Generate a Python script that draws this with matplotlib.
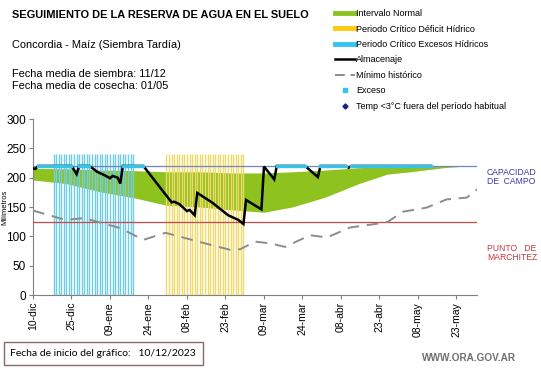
import numpy as np
import pandas as pd
import matplotlib
matplotlib.use("Agg")
import matplotlib.pyplot as plt
from matplotlib.lines import Line2D
from matplotlib.patches import Rectangle

plt.rcParams['font.family'] = ['Liberation Sans', 'DejaVu Sans']

START = pd.Timestamp("2023-12-10")
END = pd.Timestamp("2024-05-31")

# ---- data (day offsets from 10/12/2023) ----
band_days = [0, 13, 26, 39, 52, 65, 78, 90, 101, 114, 127, 138, 147, 160, 169, 173]
band_upper = [216, 215, 213, 212, 210, 210, 208, 208, 210, 213, 217, 219, 220, 220, 220, 220]
band_lower = [196, 190, 176, 166, 153, 150, 145, 141, 150, 167, 190, 206, 210, 217, 220, 220]

alm_days = [0, 1, 2, 15, 17, 18, 22, 25, 28, 30, 31, 33, 34, 35, 43, 54, 55, 57, 60, 61, 63, 64,
            70, 76, 80, 82, 83, 89, 90, 94, 95, 106, 111, 112, 122, 123, 124, 155]
alm_vals = [216, 215, 220, 220, 206, 220, 220, 210, 204, 199, 203, 200, 190, 220, 220, 158, 159, 155,
            143, 145, 136, 174, 157, 136, 128, 121, 162, 146, 219, 197, 220, 220, 201, 220, 220, 217, 220, 220]

min_days = [0, 12.6, 19.6, 22.4, 34, 43, 51.6, 59.3, 67, 76.8, 80.7, 86.6, 92.4, 98.2, 108, 114.5,
            123.5, 136.4, 138.3, 144.2, 153.4, 161.2, 169, 173]
min_vals = [144, 128, 131, 128, 114, 94, 106, 97, 88, 77, 78, 91, 88, 82, 102, 98,
            115, 123, 125, 142, 149, 163, 166, 180]

exceso_periods = [("2023-12-12", "2023-12-25"), ("2023-12-28", "2024-01-01"),
                  ("2024-01-14", "2024-01-22"), ("2024-03-14", "2024-03-25"),
                  ("2024-03-31", "2024-04-10"), ("2024-04-12", "2024-05-13")]
deficit_period = ("2024-01-31", "2024-03-01")
excesos_period = ("2023-12-18", "2024-01-18")
crit_height = 240

capacidad_campo = 220
punto_marchitez = 124

tick_labels = ["10-dic", "25-dic", "09-ene", "24-ene", "08-feb", "23-feb", "09-mar",
               "24-mar", "08-abr", "23-abr", "08-may", "23-may"]

def to_dates(days):
    return START + pd.to_timedelta(np.asarray(days, dtype=float), unit="D")

# ---- figure ----
W, H = 541, 368
fig = plt.figure(figsize=(W / 100, H / 100), dpi=100)
ax = fig.add_axes([33 / W, 1 - 295 / H, 444 / W, 176 / H])

# green band
ax.fill_between(to_dates(band_days), band_lower, band_upper, color='#8dc21f', lw=0, zorder=1)

# critical period bars (daily lines)
exc_d = pd.date_range(*excesos_period, freq="D")
ax.vlines(exc_d, 0, crit_height, colors='#6fcde6', linewidth=1.0, zorder=2)
def_d = pd.date_range(*deficit_period, freq="D")
ax.vlines(def_d, 0, crit_height, colors='#f2da68', linewidth=1.0, zorder=2)

# reference lines
ax.axhline(capacidad_campo, color='#6f86c2', lw=0.9, zorder=3)
ax.axhline(punto_marchitez, color='#c24a4a', lw=0.9, zorder=3)

# minimo historico
ax.plot(to_dates(min_days), min_vals, color='#8c8c8c', lw=1.4, dashes=(6, 4), zorder=4)

# almacenaje
ax.plot(to_dates(alm_days), alm_vals, color='black', lw=1.8, zorder=5, solid_joinstyle='miter')

# exceso markers
ex_dates = pd.DatetimeIndex(np.concatenate([pd.date_range(a, b, freq="D") for a, b in exceso_periods]))
ax.plot(ex_dates, [capacidad_campo] * len(ex_dates), ls='none', marker='s', ms=2.0,
        color='#35c4ee', mec='#35c4ee', zorder=6)

ax.set_xlim(START, END)
ax.set_ylim(0, 300)
ax.set_yticks(range(0, 301, 50))
ticks = pd.date_range(START, periods=len(tick_labels), freq="15D")
ax.set_xticks(ticks)
ax.set_xticklabels(tick_labels, rotation=90, fontsize=7.5)
ax.tick_params(axis='y', labelsize=8.5, length=3, color='#808080', pad=2)
ax.tick_params(axis='x', length=3, color='#808080', pad=2)
for s in ['top', 'right']:
    ax.spines[s].set_visible(False)
for s in ['left', 'bottom']:
    ax.spines[s].set_color('#808080')
ax.set_ylabel("Milímetros", fontsize=5.5)
ax.yaxis.set_label_coords(-0.056, 0.5)

# right side labels
fig.text(487 / W, 1 - 177 / H, "CAPACIDAD\nDE  CAMPO", color='#3a3aa8', fontsize=6.2,
         va='center', ha='left', linespacing=1.1)
fig.text(487 / W, 1 - 253 / H, "PUNTO   DE\nMARCHITEZ", color='#c83a3a', fontsize=6.2,
         va='center', ha='left', linespacing=1.1)

# titles
fig.text(12 / W, 1 - 15 / H, "SEGUIMIENTO DE LA RESERVA DE AGUA EN EL SUELO", fontsize=7.9,
         fontweight='bold', va='center', ha='left')
fig.text(12 / W, 1 - 45 / H, "Concordia - Maíz (Siembra Tardía)", fontsize=7.9, va='center', ha='left')
fig.text(12 / W, 1 - 74 / H, "Fecha media de siembra: 11/12", fontsize=7.9, va='center', ha='left')
fig.text(12 / W, 1 - 86 / H, "Fecha media de cosecha: 01/05", fontsize=7.9, va='center', ha='left')

# legend
handles = [
    Line2D([], [], color='#8dc21f', lw=3.5),
    Line2D([], [], color='#ffc90e', lw=3.5),
    Line2D([], [], color='#35c4ee', lw=3.5),
    Line2D([], [], color='black', lw=1.8),
    Line2D([], [], color='#8c8c8c', lw=1.4, dashes=(5, 3)),
    Line2D([], [], ls='none', marker='s', ms=2.4, color='#35c4ee'),
    Line2D([], [], ls='none', marker='D', ms=2.6, color='#1a237e'),
]
labels = ["Intervalo Normal", "Periodo Crítico Déficit Hídrico", "Periodo Crítico Excesos Hídricos",
          "Almacenaje", "Mínimo histórico", "Exceso", "Temp <3°C fuera del período habitual"]
fig.legend(handles, labels, loc='upper left', bbox_to_anchor=(328 / W, 1 - 2 / H), frameon=False,
           fontsize=6.5, handlelength=2.2, handletextpad=0.15, labelspacing=0.71, borderpad=0.3)

# bottom box
fig.add_artist(Rectangle((4 / W, 1 - 365 / H), 199 / W, 23 / H, transform=fig.transFigure,
                         fill=False, edgecolor='#8a6a6a', lw=1.0))
fig.text(10 / W, 1 - 354 / H, "Fecha de inicio del gráfico:   10/12/2023", fontsize=7.5,
         va='center', ha='left', family=['Lato', 'DejaVu Sans'])
fig.text(516 / W, 1 - 358 / H, "WWW.ORA.GOV.AR", fontsize=7.2, color='#707070', fontweight='bold',
         va='center', ha='right')

fig.savefig("out.png", dpi=100)
